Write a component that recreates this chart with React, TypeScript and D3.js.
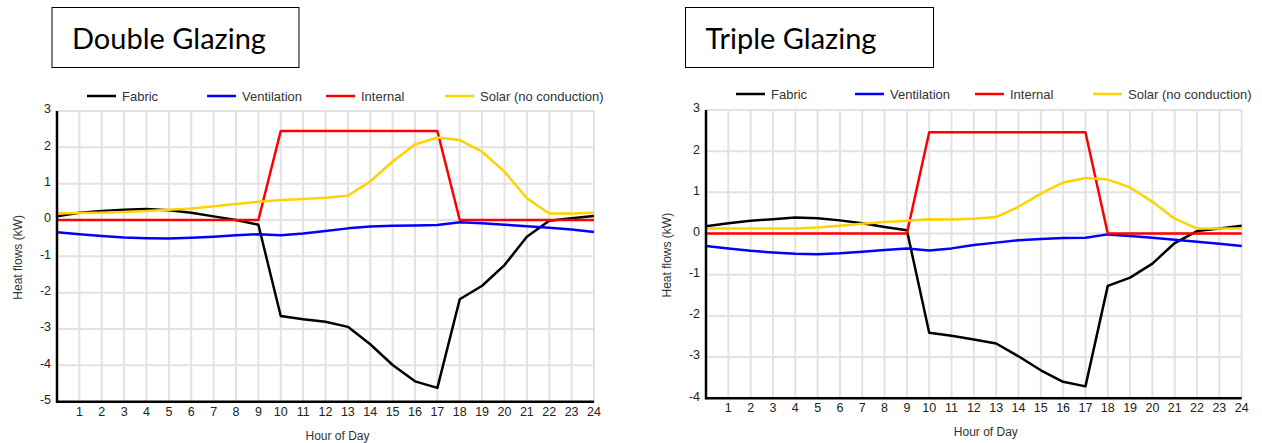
import * as d3 from "d3";

// hours 0..24
const hours = d3.range(0, 25);

// Double glazing (kW)
const dgFabric = [0.1, 0.2, 0.25, 0.28, 0.3, 0.27, 0.2, 0.1, 0.0, -0.13, -2.64, -2.73, -2.8, -2.94, -3.42, -3.99, -4.44, -4.62, -2.18, -1.81, -1.24, -0.46, -0.02, 0.05, 0.11];
const dgVent = [-0.34, -0.39, -0.44, -0.48, -0.5, -0.51, -0.49, -0.46, -0.42, -0.39, -0.42, -0.37, -0.3, -0.23, -0.18, -0.16, -0.15, -0.14, -0.06, -0.09, -0.13, -0.17, -0.21, -0.26, -0.33];
const dgInternal = [0, 0, 0, 0, 0, 0, 0, 0, 0, 0, 2.45, 2.45, 2.45, 2.45, 2.45, 2.45, 2.45, 2.45, 0, 0, 0, 0, 0, 0, 0];
const dgSolar = [0.18, 0.19, 0.2, 0.22, 0.25, 0.28, 0.32, 0.38, 0.44, 0.5, 0.55, 0.58, 0.61, 0.67, 1.06, 1.61, 2.08, 2.27, 2.2, 1.88, 1.33, 0.6, 0.18, 0.18, 0.2];

// Triple glazing (kW)
const tgFabric = [0.18, 0.25, 0.31, 0.35, 0.39, 0.37, 0.32, 0.25, 0.16, 0.08, -2.41, -2.48, -2.57, -2.67, -2.98, -3.32, -3.6, -3.71, -1.27, -1.07, -0.73, -0.23, 0.06, 0.12, 0.19];
const tgVent = [-0.3, -0.36, -0.42, -0.46, -0.49, -0.5, -0.48, -0.44, -0.4, -0.36, -0.41, -0.36, -0.28, -0.22, -0.16, -0.13, -0.11, -0.1, -0.02, -0.06, -0.1, -0.15, -0.2, -0.25, -0.3];
const tgInternal = [0, 0, 0, 0, 0, 0, 0, 0, 0, 0, 2.46, 2.46, 2.46, 2.46, 2.46, 2.46, 2.46, 2.46, 0, 0, 0, 0, 0, 0, 0];
const tgSolar = [0.12, 0.12, 0.12, 0.12, 0.12, 0.15, 0.19, 0.24, 0.28, 0.31, 0.35, 0.34, 0.36, 0.4, 0.65, 0.97, 1.24, 1.35, 1.31, 1.12, 0.77, 0.36, 0.12, 0.12, 0.12];

const seriesNames = ["Fabric", "Ventilation", "Internal", "Solar (no conduction)"];
const seriesColors = ["#000000", "#0000ff", "#ff0000", "#ffd200"];
const xTicks = d3.range(1, 25);

type ChartProps = {
  title: string;
  titleBox: [number, number, number, number];
  x0: number;
  x1: number;
  yTop: number;
  yBot: number;
  yDomain: [number, number];
  legendY: number;
  legendX: number[];
  series: number[][];
};

const Chart = (p: ChartProps) => {
  const x = d3.scaleLinear().domain([0, 24]).range([p.x0, p.x1]);
  const y = d3.scaleLinear().domain(p.yDomain).range([p.yBot, p.yTop]);
  const yTicks = d3.range(p.yDomain[0], p.yDomain[1] + 1);
  const line = d3
    .line<number>()
    .x((d, i) => x(hours[i]))
    .y((d) => y(d));
  const [bx, by, bw, bh] = p.titleBox;
  const font = "Liberation Sans, Arial, sans-serif";

  return (
    <g>
      <rect x={bx} y={by} width={bw} height={bh} fill="#fff" stroke="#000" strokeWidth={1} />
      <text x={bx + 20} y={by + 41} fontFamily="Lato, sans-serif" fontSize={29} fill="#000">
        {p.title}
      </text>

      {/* legend */}
      {seriesNames.map((n, i) => (
        <g key={n}>
          <line x1={p.legendX[i]} x2={p.legendX[i] + 29} y1={p.legendY} y2={p.legendY} stroke={seriesColors[i]} strokeWidth={2.5} />
          <text x={p.legendX[i] + 35} y={p.legendY + 4.5} fontFamily={font} fontSize={13} fill="#333">
            {n}
          </text>
        </g>
      ))}

      {/* grid */}
      {yTicks.map((t) => (
        <line key={"gy" + t} x1={p.x0} x2={p.x1} y1={y(t)} y2={y(t)} stroke="#e2e2e2" strokeWidth={2} />
      ))}
      {xTicks.map((t) => (
        <line key={"gx" + t} x1={x(t)} x2={x(t)} y1={p.yTop} y2={p.yBot} stroke="#e2e2e2" strokeWidth={2} />
      ))}

      {/* series */}
      {p.series.map((s, i) => (
        <path key={i} d={line(s) ?? ""} fill="none" stroke={seriesColors[i]} strokeWidth={2.5} strokeLinejoin="round" />
      ))}

      {/* axes */}
      <line x1={p.x0} x2={p.x0} y1={p.yTop} y2={p.yBot + 1} stroke="#000" strokeWidth={2.5} />
      <line x1={p.x0 - 1} x2={p.x1} y1={p.yBot} y2={p.yBot} stroke="#000" strokeWidth={2.5} />

      {yTicks.map((t) => (
        <text key={"ty" + t} x={p.x0 - 6} y={y(t) - 2} dy="0.35em" textAnchor="end" fontFamily={font} fontSize={12.5} fill="#222">
          {t}
        </text>
      ))}
      {xTicks.map((t) => (
        <text key={"tx" + t} x={x(t)} y={p.yBot + 14} textAnchor="middle" fontFamily={font} fontSize={12.5} fill="#222">
          {t}
        </text>
      ))}

      <text x={(p.x0 + p.x1) / 2 + 12} y={p.yBot + 38} textAnchor="middle" fontFamily={font} fontSize={12} fill="#333">
        Hour of Day
      </text>
      <text
        transform={`translate(${p.x0 - 39},${(p.yTop + p.yBot) / 2 + 1}) rotate(-90)`}
        textAnchor="middle"
        dy="0.35em"
        fontFamily={font}
        fontSize={12}
        fill="#333"
      >
        Heat flows (kW)
      </text>
    </g>
  );
};

export default function App() {
  return (
    <svg width={1262} height={443} style={{ position: "absolute", left: 0, top: 0, background: "#fff" }}>
      <Chart
        title="Double Glazing"
        titleBox={[52, 7.5, 247, 60]}
        x0={57}
        x1={594}
        yTop={111}
        yBot={401.7}
        yDomain={[-5, 3]}
        legendY={96}
        legendX={[87, 207, 326, 445]}
        series={[dgFabric, dgVent, dgInternal, dgSolar]}
      />
      <Chart
        title="Triple Glazing"
        titleBox={[685.5, 7.5, 248, 60]}
        x0={706}
        x1={1241.7}
        yTop={110}
        yBot={398.3}
        yDomain={[-4, 3]}
        legendY={94}
        legendX={[736, 855, 975, 1093]}
        series={[tgFabric, tgVent, tgInternal, tgSolar]}
      />
    </svg>
  );
}
